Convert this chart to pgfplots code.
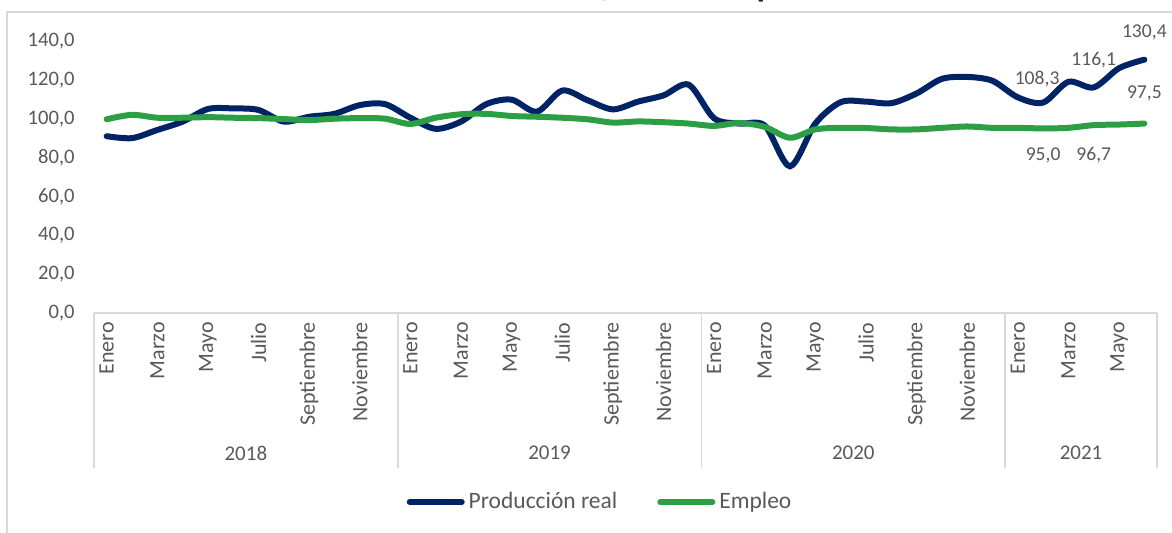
\documentclass[border=0pt]{standalone}
\usepackage{fontspec}
\setmainfont{Carlito}
\usepackage{pgfplots}
\pgfplotsset{compat=1.18}
\definecolor{navy}{HTML}{002366}
\definecolor{emp}{HTML}{2C9F45}
\definecolor{tickgray}{HTML}{595959}
\definecolor{sepgray}{HTML}{D9D9D9}
\begin{document}
\begin{tikzpicture}
\useasboundingbox (-47pt,-110pt) rectangle (539pt,156.5pt);
\draw[sepgray, line width=0.8pt] (-43.6pt,-112pt) -- (-43.6pt,150.5pt) -- (545pt,150.5pt);
\node[anchor=base, font=\fontsize{18}{20}\selectfont\bfseries\itshape, text=black!85] at (263pt,158.2pt) {Industria manufacturera química};
\begin{axis}[
  at={(0,0)}, anchor=south west,
  scale only axis, width=531.5pt, height=136pt,
  xmin=-0.5, xmax=41.5, ymin=0, ymax=140,
  clip=false,
  axis x line*=bottom, axis y line*=left,
  x axis line style={sepgray, line width=0.8pt},
  y axis line style={draw=none},
  xtick={0,2,...,40},
  xticklabels={Enero,Marzo,Mayo,Julio,Septiembre,Noviembre,Enero,Marzo,Mayo,Julio,Septiembre,Noviembre,Enero,Marzo,Mayo,Julio,Septiembre,Noviembre,Enero,Marzo,Mayo},
  xtick style={draw=none}, ytick style={draw=none},
  xticklabel style={rotate=90, anchor=east, inner sep=0pt, text=tickgray, font=\fontsize{11}{13}\selectfont},
  xticklabel shift=4.5pt,
  ytick={0,20,...,140},
  yticklabel style={anchor=east, inner sep=0pt, text=tickgray, font=\fontsize{10.3}{12}\selectfont},
  yticklabel shift=9.5pt,
  /pgf/number format/.cd, fixed, fixed zerofill, precision=1, use comma, assume math mode=true,
  /pgfplots/.cd,
  legend columns=2,
  legend style={at={(0.477,-0.695)}, anchor=center, draw=none, fill=none, font=\fontsize{11.75}{13}\selectfont, text=tickgray,
    /tikz/every even column/.append style={column sep=18pt}, inner sep=0pt},
  legend image code/.code={\draw[#1, line cap=round] (0pt,0pt) -- (26pt,0pt);},
]
\addplot[navy, line width=3pt, smooth, tension=0.5, line cap=round] coordinates {
(0,91.0) (1,90.0) (2,94.2) (3,98.5) (4,105.0) (5,105.3) (6,104.5) (7,98.5) (8,101.0) (9,102.5) (10,107.0) (11,107.5)
(12,100.5) (13,94.8) (14,98.5) (15,107.5) (16,109.8) (17,103.6) (18,114.5) (19,109.5) (20,104.8) (21,108.8) (22,112.0) (23,117.5)
(24,100.2) (25,97.5) (26,96.5) (27,75.5) (28,97.5) (29,108.5) (30,108.8) (31,108.0) (32,113.0) (33,120.5) (34,121.5) (35,119.5)
(36,111.0) (37,108.3) (38,119.0) (39,116.1) (40,126.0) (41,130.4)
};
\addlegendentry{Producción real}
\addplot[emp, line width=3pt, smooth, tension=0.5, line cap=round] coordinates {
(0,99.7) (1,102.0) (2,100.5) (3,100.5) (4,100.8) (5,100.5) (6,100.3) (7,99.8) (8,99.3) (9,100.0) (10,100.3) (11,100.0)
(12,97.3) (13,100.5) (14,102.3) (15,102.5) (16,101.4) (17,101.0) (18,100.5) (19,99.7) (20,98.0) (21,98.6) (22,98.2) (23,97.5)
(24,96.3) (25,97.8) (26,95.8) (27,90.2) (28,94.5) (29,95.3) (30,95.2) (31,94.5) (32,94.5) (33,95.3) (34,96.0) (35,95.3)
(36,95.3) (37,95.0) (38,95.3) (39,96.7) (40,97.0) (41,97.5)
};
\addlegendentry{Empleo}
% separators
\foreach \s in {-0.5,11.5,23.5,35.5,41.5} {
  \edef\tmp{\noexpand\draw[sepgray, line width=0.8pt] (axis cs:\s,0) -- ++(0pt,-77.5pt);}\tmp
}
\node[text=tickgray, font=\fontsize{10.5}{12}\selectfont] at ([yshift=-70pt]axis cs:5.5,0) {2018};
\node[text=tickgray, font=\fontsize{10.5}{12}\selectfont] at ([yshift=-70pt]axis cs:17.5,0) {2019};
\node[text=tickgray, font=\fontsize{10.5}{12}\selectfont] at ([yshift=-70pt]axis cs:29.5,0) {2020};
\node[text=tickgray, font=\fontsize{10.5}{12}\selectfont] at ([yshift=-70pt]axis cs:38.5,0) {2021};
% data labels
\node[text=tickgray, font=\fontsize{9.8}{11}\selectfont] at ([xshift=-3pt,yshift=12pt]axis cs:37,108.3) {108,3};
\node[text=tickgray, font=\fontsize{9.8}{11}\selectfont] at ([yshift=13.5pt]axis cs:39,116.1) {116,1};
\node[text=tickgray, font=\fontsize{9.8}{11}\selectfont] at ([yshift=13.8pt]axis cs:41,130.4) {130,4};
\node[text=tickgray, font=\fontsize{9.8}{11}\selectfont] at ([yshift=15pt]axis cs:41,97.5) {97,5};
\node[text=tickgray, font=\fontsize{9.8}{11}\selectfont] at ([yshift=-13.5pt]axis cs:37,95.0) {95,0};
\node[text=tickgray, font=\fontsize{9.8}{11}\selectfont] at ([yshift=-15pt]axis cs:39,96.7) {96,7};
\end{axis}
\end{tikzpicture}
\end{document}
